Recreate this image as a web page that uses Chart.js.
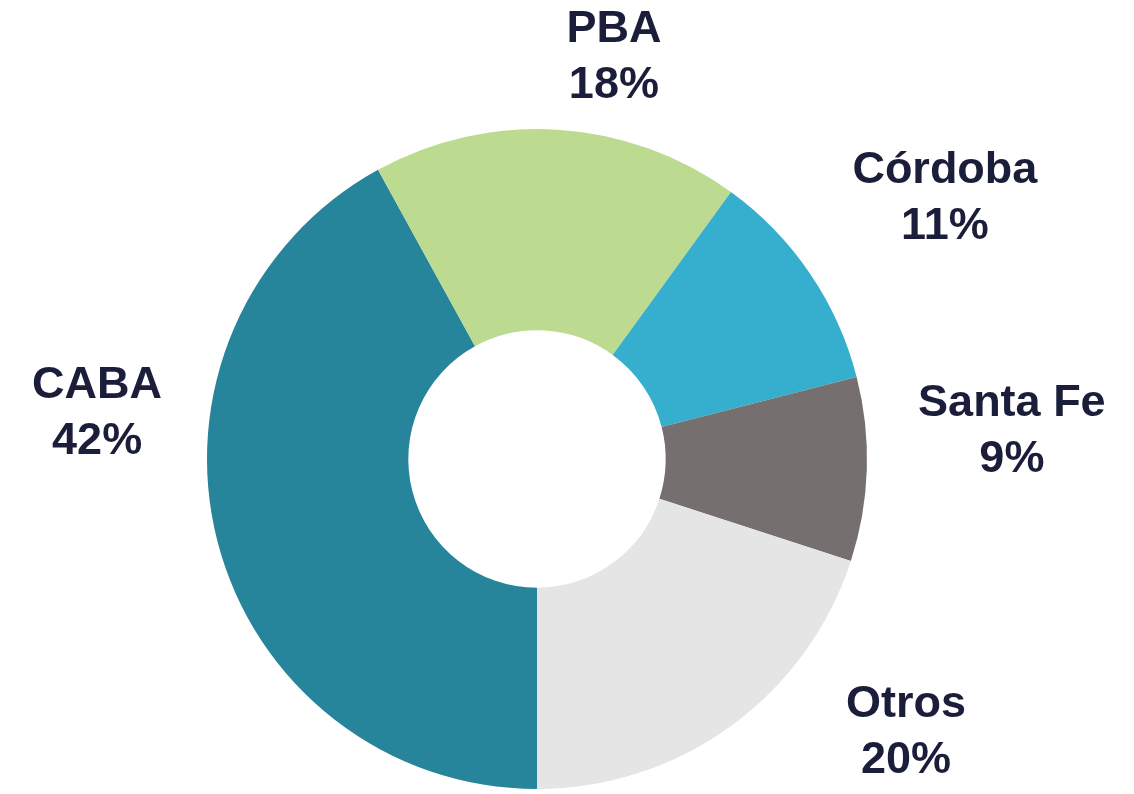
<!DOCTYPE html>
<html>
<head>
<meta charset="utf-8">
<script src="https://cdn.jsdelivr.net/npm/chart.js@4/dist/chart.umd.min.js"></script>
<style>
  html, body { margin: 0; padding: 0; background: #ffffff; }
  #wrap { width: 1134px; height: 794px; position: relative; }
</style>
</head>
<body>
<div id="wrap"><canvas id="myDonut"></canvas></div>
<script>
// data
const regiones = ['CABA', 'PBA', 'Córdoba', 'Santa Fe', 'Otros'];
const porcentajes = [42, 18, 11, 9, 20];
const colores = ['#26849b', '#bdda91', '#36aece', '#756f6f', '#e5e5e5'];

// label block centers, relative to the donut center in units of outer radius
const labelOffsets = [
  [-1.333, -0.139],
  [0.233, -1.215],
  [1.236, -0.788],
  [1.439, -0.082],
  [1.118, 0.830]
];

const labelPlugin = {
  id: 'sliceLabels',
  afterDraw: (chart) => {
    const ctx = chart.ctx;
    const meta = chart.getDatasetMeta(0);
    ctx.save();
    ctx.fillStyle = '#1b1e3a';
    ctx.font = 'bold 45px "Liberation Sans", Arial, sans-serif';
    ctx.textAlign = 'center';
    ctx.textBaseline = 'middle';
    meta.data.forEach((arc, i) => {
      const p = arc.getProps(['x', 'y', 'outerRadius'], true);
      const cx = p.x + labelOffsets[i][0] * p.outerRadius;
      const cy = p.y + labelOffsets[i][1] * p.outerRadius;
      ctx.fillText(regiones[i], cx, cy - 28);
      ctx.fillText(porcentajes[i] + '%', cx, cy + 28);
    });
    ctx.restore();
  }
};

const config = {
  type: 'doughnut',
  data: {
    labels: regiones,
    datasets: [{
      data: porcentajes,
      backgroundColor: colores,
      borderWidth: 0
    }]
  },
  options: {
    responsive: true,
    maintainAspectRatio: false,
    animation: false,
    rotation: 180,
    cutout: '39%',
    layout: {
      padding: { left: 207, right: 267, top: 129, bottom: 5 }
    },
    plugins: {
      legend: { display: false },
      tooltip: { enabled: false }
    }
  },
  plugins: [labelPlugin]
};

const myDonut = new Chart(document.getElementById('myDonut'), config);
</script>
</body>
</html>
